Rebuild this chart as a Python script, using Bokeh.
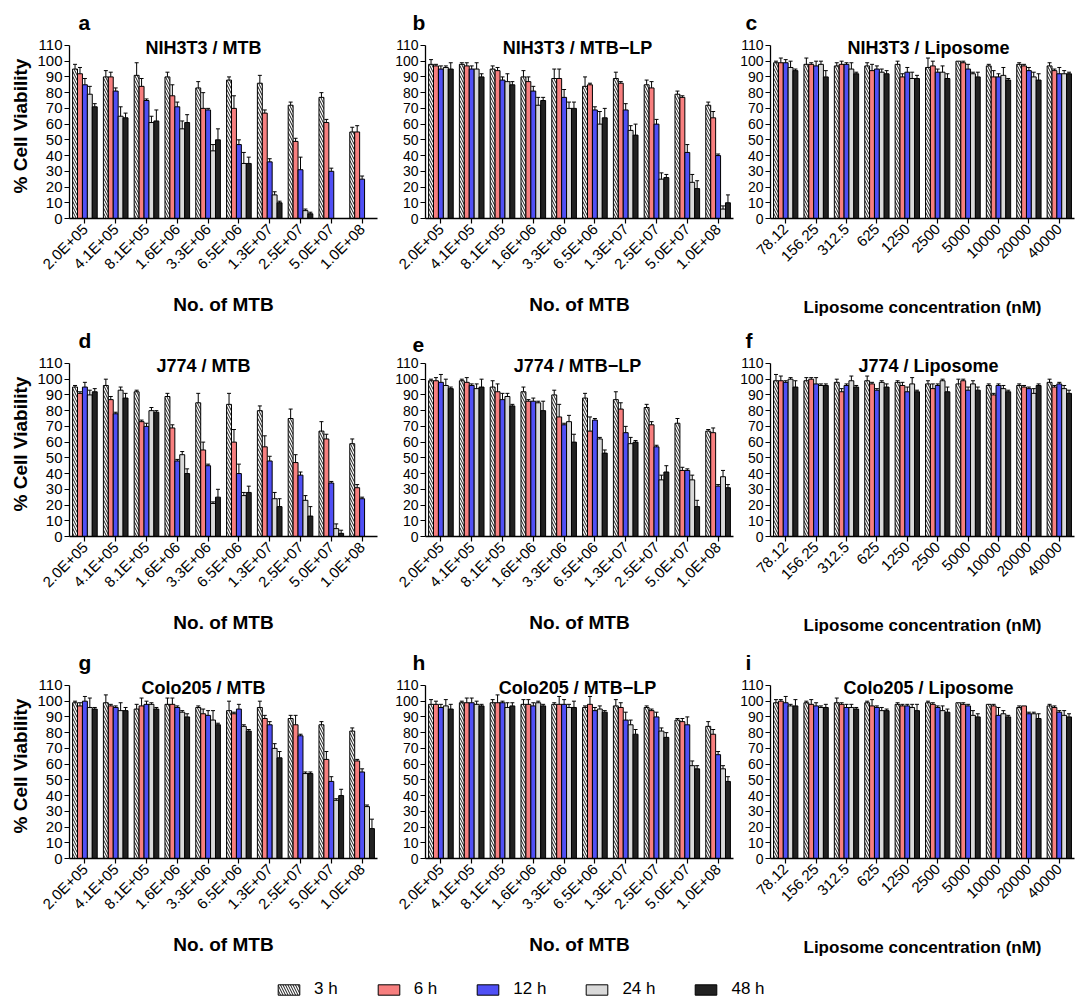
import math
from bokeh.plotting import figure
from bokeh.models import (ColumnDataSource, FactorRange, Range1d, FixedTicker,
                          Whisker, TeeHead, Label, Legend, LegendItem, Title)
from bokeh.transform import dodge
from bokeh.layouts import row, column
from bokeh.embed import file_html
from bokeh.resources import INLINE

# ---------------- data ----------------
MTB_LABELS = ["2.0E+05", "4.1E+05", "8.1E+05", "1.6E+06", "3.3E+06",
              "6.5E+06", "1.3E+07", "2.5E+07", "5.0E+07", "1.0E+08"]
LIPO_LABELS = ["78.12", "156.25", "312.5", "625", "1250",
               "2500", "5000", "10000", "20000", "40000"]
SERIES = ["3 h", "6 h", "12 h", "24 h", "48 h"]

# a  NIH3T3 / MTB
A_3H = [95, 90, 91, 90, 83, 88, 86, 72, 77, 55]
A_6H = [92, 90, 84, 78, 70, 70, 67, 49, 61, 55]
A_12H = [85, 81, 75, 71, 69, 47, 36, 31, 30, 25]
A_24H = [79, 65, 61, 57, 43, 35, 15, 5, 0, 0]
A_48H = [71, 64, 62, 61, 50, 35, 10, 3, 0, 0]
A_3H_E = [3, 4, 8, 3, 4, 2, 5, 2, 3, 3]
A_6H_E = [4, 3, 5, 7, 10, 8, 2, 2, 2, 4]
A_12H_E = [4, 2, 1, 3, 1, 3, 2, 8, 2, 2]
A_24H_E = [5, 6, 4, 5, 4, 7, 2, 1, 0, 0]
A_48H_E = [2, 3, 7, 5, 7, 4, 1, 1, 0, 0]

# b  NIH3T3 / MTB-LP
B_3H = [98, 98, 95, 90, 89, 84, 89, 85, 79, 72]
B_6H = [97, 97, 94, 87, 89, 85, 86, 83, 77, 64]
B_12H = [95, 95, 88, 81, 77, 69, 69, 60, 42, 40]
B_24H = [96, 95, 87, 72, 70, 60, 56, 25, 23, 6]
B_48H = [95, 90, 85, 75, 70, 64, 53, 26, 19, 10]
B_3H_E = [3, 1, 2, 4, 6, 6, 4, 3, 2, 2]
B_6H_E = [1, 2, 2, 3, 6, 1, 1, 4, 1, 4]
B_12H_E = [2, 2, 2, 3, 5, 2, 4, 3, 5, 1]
B_24H_E = [1, 4, 5, 5, 4, 8, 3, 4, 5, 2]
B_48H_E = [4, 2, 2, 2, 4, 6, 7, 2, 5, 5]

# c  NIH3T3 / Liposome
C_3H = [99, 98, 97, 97, 98, 96, 100, 97, 98, 97]
C_6H = [99, 98, 98, 94, 90, 97, 99, 90, 97, 94]
C_12H = [99, 97, 98, 95, 93, 93, 95, 90, 94, 92]
C_24H = [96, 98, 95, 93, 89, 93, 92, 91, 90, 92]
C_48H = [94, 90, 92, 92, 89, 89, 90, 88, 88, 92]
C_3H_E = [1, 4, 2, 2, 2, 6, 0, 1, 1, 2]
C_6H_E = [3, 1, 2, 4, 2, 3, 1, 4, 1, 1]
C_12H_E = [2, 3, 1, 2, 3, 2, 3, 2, 2, 4]
C_24H_E = [4, 2, 4, 2, 4, 4, 1, 5, 3, 2]
C_48H_E = [1, 4, 1, 2, 2, 3, 3, 1, 4, 1]

# d  J774 / MTB
D_3H = [95, 96, 92, 89, 85, 84, 80, 75, 67, 59]
D_6H = [91, 87, 73, 69, 55, 60, 57, 47, 62, 31]
D_12H = [95, 78, 70, 48, 45, 40, 48, 39, 34, 24]
D_24H = [90, 93, 80, 52, 21, 26, 24, 23, 5, 0]
D_48H = [92, 88, 79, 40, 25, 28, 19, 13, 2, 0]
D_3H_E = [1, 4, 1, 2, 6, 7, 3, 6, 6, 3]
D_6H_E = [1, 2, 1, 2, 5, 8, 7, 5, 3, 2]
D_12H_E = [3, 1, 2, 1, 1, 6, 3, 2, 1, 1]
D_24H_E = [3, 2, 2, 2, 1, 2, 4, 3, 3, 0]
D_48H_E = [2, 3, 1, 3, 5, 4, 5, 6, 2, 0]

# e  J774 / MTB-LP
E_3H = [99, 99, 95, 92, 90, 88, 87, 82, 72, 67]
E_6H = [99, 98, 92, 86, 76, 67, 81, 71, 42, 66]
E_12H = [98, 96, 87, 86, 71, 74, 66, 57, 42, 32]
E_24H = [96, 94, 89, 85, 73, 62, 59, 36, 36, 38]
E_48H = [94, 95, 83, 80, 60, 53, 60, 41, 19, 31]
E_3H_E = [1, 1, 4, 3, 3, 3, 5, 2, 3, 1]
E_6H_E = [2, 3, 5, 1, 8, 9, 4, 2, 2, 3]
E_12H_E = [5, 1, 4, 2, 1, 1, 4, 1, 1, 1]
E_24H_E = [4, 3, 2, 1, 4, 1, 4, 3, 3, 4]
E_48H_E = [1, 5, 1, 6, 5, 2, 1, 4, 4, 2]

# f  J774 / Liposome
F_3H = [99, 99, 98, 99, 98, 97, 97, 96, 96, 98]
F_6H = [99, 100, 92, 97, 96, 94, 99, 90, 95, 95]
F_12H = [98, 97, 96, 93, 92, 96, 93, 96, 94, 97]
F_24H = [100, 96, 99, 98, 97, 99, 97, 94, 91, 94]
F_48H = [95, 96, 95, 95, 92, 92, 93, 92, 96, 91]
F_3H_E = [4, 2, 2, 3, 1, 2, 3, 1, 1, 2]
F_6H_E = [3, 1, 2, 1, 2, 3, 1, 1, 1, 1]
F_12H_E = [1, 4, 1, 1, 3, 1, 2, 1, 1, 1]
F_24H_E = [1, 1, 3, 1, 4, 1, 2, 2, 3, 2]
F_48H_E = [4, 1, 1, 2, 1, 3, 2, 1, 1, 2]

# g  Colo205 / MTB
G_3H = [99, 99, 95, 98, 96, 94, 96, 89, 85, 81]
G_6H = [97, 97, 97, 98, 92, 92, 89, 85, 63, 62]
G_12H = [100, 96, 98, 96, 91, 95, 85, 78, 49, 55]
G_24H = [96, 94, 98, 93, 88, 84, 70, 54, 37, 33]
G_48H = [95, 94, 95, 90, 85, 81, 64, 54, 40, 19]
G_3H_E = [1, 5, 3, 4, 1, 6, 4, 2, 2, 2]
G_6H_E = [2, 1, 5, 4, 3, 1, 2, 6, 5, 1]
G_12H_E = [3, 1, 2, 1, 3, 3, 2, 1, 3, 2]
G_24H_E = [6, 5, 1, 1, 6, 1, 3, 1, 1, 1]
G_48H_E = [1, 2, 1, 2, 1, 1, 4, 1, 4, 6]

# h  Colo205 / MTB-LP
H_3H = [98, 99, 99, 98, 98, 96, 97, 96, 88, 84]
H_6H = [98, 99, 99, 98, 98, 98, 96, 94, 87, 79]
H_12H = [96, 99, 99, 97, 98, 94, 88, 90, 85, 66]
H_24H = [97, 98, 96, 99, 96, 95, 85, 81, 59, 57]
H_48H = [95, 97, 97, 97, 96, 93, 79, 77, 57, 49]
H_3H_E = [3, 1, 2, 3, 1, 1, 4, 1, 1, 3]
H_6H_E = [2, 3, 5, 3, 5, 5, 3, 1, 2, 3]
H_12H_E = [2, 3, 1, 2, 3, 2, 5, 3, 5, 2]
H_24H_E = [4, 2, 3, 1, 2, 2, 3, 2, 3, 2]
H_48H_E = [3, 1, 2, 1, 4, 1, 3, 3, 2, 3]

# i  Colo205 / Liposome
I_3H = [99, 99, 99, 99, 98, 99, 99, 98, 96, 97]
I_6H = [100, 98, 98, 97, 97, 98, 98, 97, 97, 96]
I_12H = [99, 97, 96, 96, 97, 96, 97, 91, 92, 93]
I_24H = [97, 96, 96, 94, 96, 94, 91, 92, 92, 91]
I_48H = [97, 96, 95, 94, 94, 93, 90, 90, 89, 90]
I_3H_E = [2, 1, 3, 1, 1, 1, 0, 0, 1, 1]
I_6H_E = [1, 3, 1, 4, 1, 1, 1, 1, 0, 1]
I_12H_E = [4, 2, 2, 1, 1, 1, 1, 5, 1, 1]
I_24H_E = [1, 1, 2, 2, 2, 3, 3, 2, 1, 3]
I_48H_E = [4, 2, 1, 1, 4, 2, 2, 1, 3, 2]

# ---------------- styling ----------------
FONT = "Liberation Sans"
COLORS = ["white", "#F77F7F", "#5050F5", "#D9D9D9", "#222222"]
OFFS = [-0.32, -0.16, 0.0, 0.16, 0.32]
BAR_W = 0.16
Y_TOP = 117.6   # frame extends a little above the 110 axis end (room for titles)

COLS = [  # width, border_left, border_right, title_center, letter_offset, ytick size
    (390, 69, 13, 134, 9, "15px"),
    (345, 35, 2, 152, -13, "14px"),
    (341, 35, 2, 158, -25, "14px"),
]
ROWS = [  # height, border_top, border_bottom
    (322, 33, 104),
    (320, 29, 106),
    (320, 31, 104),
]


def bar_style(k):
    st = dict(fill_color=COLORS[k], line_color="black", line_width=1)
    if k == 0:
        st.update(hatch_pattern="\\", hatch_color="black", hatch_scale=5,
                  hatch_weight=0.9)
    return st


def make_panel(ci, ri, letter, title, labels, means, errs, xlabel):
    width, bl, br, tcx, loff, ytick = COLS[ci]
    height, bt, bb = ROWS[ri]
    p = figure(x_range=FactorRange(factors=labels), y_range=Range1d(0, Y_TOP),
               width=width, height=height, output_backend="svg",
               toolbar_location=None, min_border_left=bl, min_border_right=br,
               min_border_top=bt, min_border_bottom=bb)
    p.outline_line_color = None
    p.xgrid.visible = False
    p.ygrid.visible = False

    for k in range(5):
        src = ColumnDataSource(data=dict(g=labels, v=means[k]))
        p.vbar(x=dodge("g", OFFS[k], range=p.x_range), top="v", width=BAR_W,
               source=src, **bar_style(k))
        keep = [j for j in range(len(labels)) if errs[k][j] > 0]
        wsrc = ColumnDataSource(data=dict(
            g=[labels[j] for j in keep],
            v=[means[k][j] for j in keep],
            up=[means[k][j] + errs[k][j] for j in keep]))
        w = Whisker(base=dodge("g", OFFS[k], range=p.x_range), lower="v",
                    upper="up", source=wsrc, dimension="height",
                    line_color="black", line_width=1, level="annotation",
                    lower_head=None,
                    upper_head=TeeHead(size=4, line_color="black", line_width=1))
        p.add_layout(w)

    for ax in (p.xaxis[0], p.yaxis[0]):
        ax.axis_line_color = "black"
        ax.axis_line_width = 1.3
        ax.major_tick_line_color = "black"
        ax.major_tick_line_width = 1.2
        ax.major_tick_in = 0
        ax.major_tick_out = 5
        ax.minor_tick_line_color = None
        ax.major_label_text_font = FONT
        ax.major_label_text_color = "black"
        ax.axis_label_text_font = FONT
        ax.axis_label_text_font_style = "bold"
        ax.axis_label_text_color = "black"
    p.yaxis.ticker = FixedTicker(ticks=list(range(0, 111, 10)))
    p.yaxis.bounds = (0, 110)
    p.yaxis.major_label_text_font_size = ytick
    p.yaxis.major_label_standoff = 2
    p.xaxis.major_label_orientation = math.pi / 4
    p.xaxis.major_label_text_font_size = "15px"
    p.xaxis.major_label_standoff = 3
    p.xaxis.axis_label = xlabel
    if labels is MTB_LABELS:
        p.xaxis.axis_label_text_font_size = "19px"
        p.xaxis.axis_label_standoff = 13
    else:
        p.xaxis.axis_label_text_font_size = "17px"
        p.xaxis.axis_label_standoff = 29
    if ci == 0:
        p.yaxis.axis_label = "% Cell Viability"
        p.yaxis.axis_label_text_font_size = "19px"
        p.yaxis.axis_label_standoff = 3

    # panel title inside the frame, just under the top of the y axis
    p.add_layout(Label(x=tcx, y=108.1, x_units="screen", y_units="data",
                       text=title, text_font=FONT, text_font_style="bold",
                       text_font_size="18px", text_align="center",
                       text_baseline="alphabetic", text_color="black"))
    # panel letter above the frame
    p.add_layout(Title(text=letter, align="left", offset=loff, standoff=0,
                       text_font=FONT, text_font_style="bold",
                       text_font_size="21px", text_color="black"), "above")
    return p


PANELS = [
    ("a", "NIH3T3 / MTB", MTB_LABELS, [A_3H, A_6H, A_12H, A_24H, A_48H],
     [A_3H_E, A_6H_E, A_12H_E, A_24H_E, A_48H_E], "No. of MTB"),
    ("b", "NIH3T3 / MTB\u2212LP", MTB_LABELS, [B_3H, B_6H, B_12H, B_24H, B_48H],
     [B_3H_E, B_6H_E, B_12H_E, B_24H_E, B_48H_E], "No. of MTB"),
    ("c", "NIH3T3 / Liposome", LIPO_LABELS, [C_3H, C_6H, C_12H, C_24H, C_48H],
     [C_3H_E, C_6H_E, C_12H_E, C_24H_E, C_48H_E], "Liposome concentration (nM)"),
    ("d", "J774 / MTB", MTB_LABELS, [D_3H, D_6H, D_12H, D_24H, D_48H],
     [D_3H_E, D_6H_E, D_12H_E, D_24H_E, D_48H_E], "No. of MTB"),
    ("e", "J774 / MTB\u2212LP", MTB_LABELS, [E_3H, E_6H, E_12H, E_24H, E_48H],
     [E_3H_E, E_6H_E, E_12H_E, E_24H_E, E_48H_E], "No. of MTB"),
    ("f", "J774 / Liposome", LIPO_LABELS, [F_3H, F_6H, F_12H, F_24H, F_48H],
     [F_3H_E, F_6H_E, F_12H_E, F_24H_E, F_48H_E], "Liposome concentration (nM)"),
    ("g", "Colo205 / MTB", MTB_LABELS, [G_3H, G_6H, G_12H, G_24H, G_48H],
     [G_3H_E, G_6H_E, G_12H_E, G_24H_E, G_48H_E], "No. of MTB"),
    ("h", "Colo205 / MTB\u2212LP", MTB_LABELS, [H_3H, H_6H, H_12H, H_24H, H_48H],
     [H_3H_E, H_6H_E, H_12H_E, H_24H_E, H_48H_E], "No. of MTB"),
    ("i", "Colo205 / Liposome", LIPO_LABELS, [I_3H, I_6H, I_12H, I_24H, I_48H],
     [I_3H_E, I_6H_E, I_12H_E, I_24H_E, I_48H_E], "Liposome concentration (nM)"),
]

figs = []
for idx, (letter, title, labels, means, errs, xlabel) in enumerate(PANELS):
    figs.append(make_panel(idx % 3, idx // 3, letter, title, labels, means, errs, xlabel))

# legend strip: hidden proxy bars (first group of panel a) only feed the legend
LEG_X = [SERIES[0]]
lg = figure(width=1076, height=38, output_backend="svg", toolbar_location=None,
            x_axis_type=None, y_axis_type=None, min_border=0,
            x_range=FactorRange(factors=LEG_X), y_range=Range1d(0, 1))
lg.outline_line_color = None
items = []
first_group = [A_3H[:1], A_6H[:1], A_12H[:1], A_24H[:1], A_48H[:1]]
for k in range(5):
    r = lg.vbar(x=LEG_X, top=first_group[k], width=0.1, visible=False, **bar_style(k))
    items.append(LegendItem(label=SERIES[k], renderers=[r]))
leg = Legend(items=items, orientation="horizontal", location=(275, 1),
             border_line_color=None, background_fill_alpha=0,
             label_text_font=FONT, label_text_font_size="17px",
             label_text_color="black",
             glyph_width=27, glyph_height=13, label_standoff=12, spacing=37,
             padding=0, margin=0, inactive_fill_alpha=0)
lg.add_layout(leg)

layout = column(row(figs[0], figs[1], figs[2]),
                row(figs[3], figs[4], figs[5]),
                row(figs[6], figs[7], figs[8]),
                lg)

open("out.html", "w").write(file_html(layout, INLINE))
